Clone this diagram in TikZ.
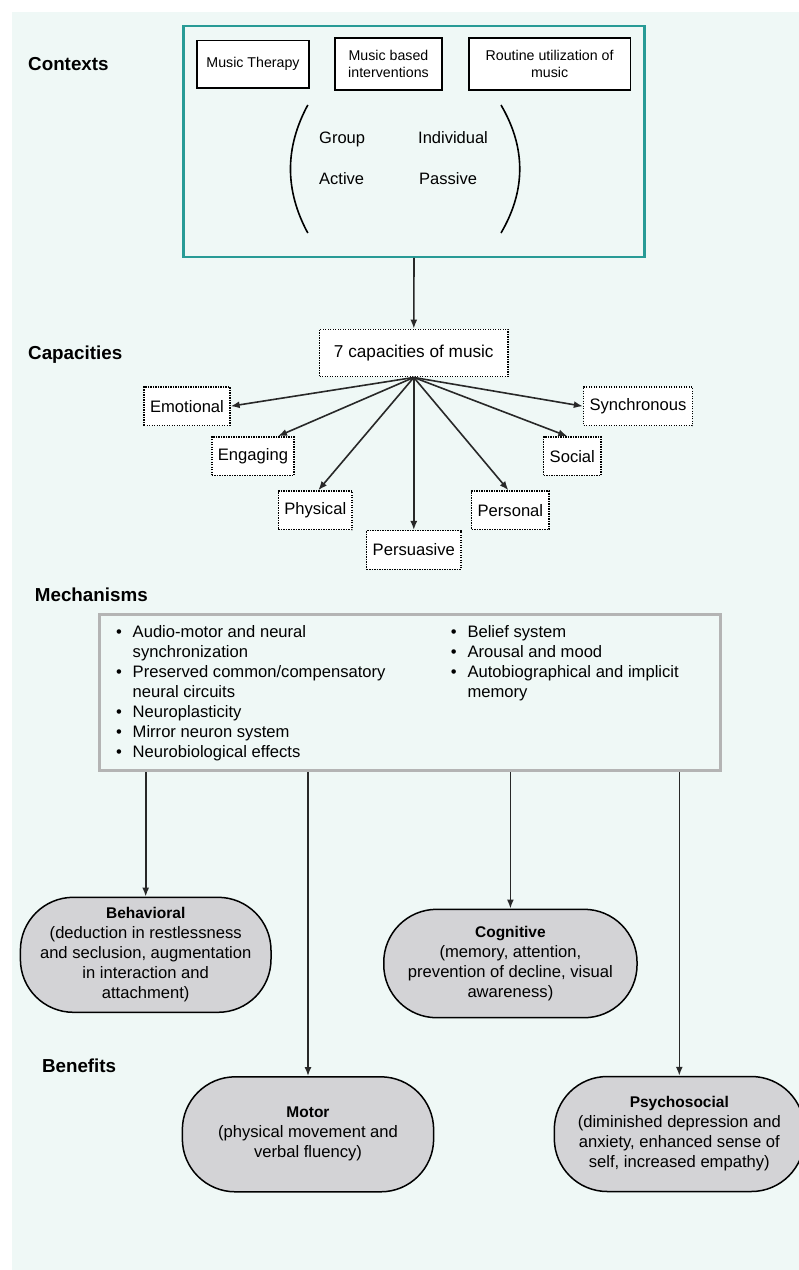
\documentclass[tikz,border=0pt]{standalone}
\usepackage{fontspec}
\setmainfont{Liberation Sans}
\usetikzlibrary{arrows.meta,calc}
\definecolor{bgmint}{RGB}{239,248,246}
\definecolor{tealline}{RGB}{40,155,150}
\definecolor{mechgray}{RGB}{180,180,180}
\definecolor{benfill}{RGB}{211,211,214}
\definecolor{arr}{RGB}{40,40,40}
\begin{document}
\begin{tikzpicture}[x=1pt,y=-1pt,
  sectlabel/.style={anchor=base west, inner sep=0pt, font=\fontsize{18.8}{22}\selectfont\bfseries},
  ctxbox/.style={draw=black, line width=1.8pt, fill=white, align=center, font=\fontsize{14.2}{16.7}\selectfont, inner sep=0pt},
  ctxword/.style={anchor=base west, inner sep=0pt, font=\fontsize{16.5}{20}\selectfont},
  capbox/.style={draw=black, line width=1.5pt, dash pattern=on 1.4pt off 1.1pt, fill=white, font=\fontsize{16.6}{20}\selectfont, inner xsep=6pt, inner ysep=0pt, minimum height=38.6pt},
  benbox/.style={draw=black, line width=1.5pt, fill=benfill, rounded corners=53pt, align=center, font=\fontsize{16.6}{20}\selectfont, inner sep=0pt},
  mechtext/.style={anchor=base west, inner sep=0pt, font=\fontsize{16.6}{20}\selectfont},
  flow/.style={draw=arr, line width=1.6pt, -{Latex[length=9pt,width=7pt]}},
  paren/.style={draw=black, line width=1.6pt}
]
\useasboundingbox (0,0) rectangle (799,1270);
\fill[bgmint] (12,12) rectangle (799,1270);

% ---------- Contexts ----------
\node[sectlabel] (lctx) at (28,70.7) {Contexts};
\node[draw=tealline, line width=2.2pt, minimum width=461pt, minimum height=230.7pt, inner sep=0pt] (ctx) at (414,141.3) {};
\node[ctxbox, minimum width=111.6pt, minimum height=47.6pt] (mt) at (253,64.2) {Music Therapy};
\node[ctxbox, minimum width=107.5pt, minimum height=51.7pt] (mbi) at (388.5,64.2) {Music based\\interventions};
\node[ctxbox, minimum width=161.6pt, minimum height=51.7pt] (rum) at (549.6,64.2) {Routine utilization of\\music};
\node[ctxword] (grp) at (319,143.9) {Group};
\node[ctxword] (ind) at (418,143.9) {Individual};
\node[ctxword] (act) at (319,184.9) {Active};
\node[ctxword] (pas) at (419,184.9) {Passive};
\coordinate (lpt) at (307.8,105);
\coordinate (lpb) at (307.8,233);
\coordinate (rpt) at (501,105);
\coordinate (rpb) at (501,233);
\draw[paren] (lpt) .. controls (284.7,147.7) and (284.7,190.3) .. (lpb);
\draw[paren] (rpt) .. controls (526,147.7) and (526,190.3) .. (rpb);

% ---------- Capacities ----------
\node[sectlabel] (lcap) at (28,359.7) {Capacities};
\node[capbox, font=\fontsize{17.2}{20}\selectfont, minimum width=188.5pt, minimum height=47.4pt] (cap) at (413.8,353) {7 capacities of music};
\node[capbox] (emo) at (187,406.2) {Emotional};
\node[capbox] (eng) at (253,456.2) {Engaging};
\node[capbox] (phy) at (315.3,510.3) {Physical};
\node[capbox] (per) at (413.8,550) {Persuasive};
\node[capbox] (pers) at (510.4,510.3) {Personal};
\node[capbox] (soc) at (572.3,456.2) {Social};
\node[capbox] (syn) at (638,406.2) {Synchronous};

\draw[flow] (ctx.south) -- (cap.north);
\draw[flow] (cap.south) -- (emo.east);
\draw[flow] (cap.south) -- ([xshift=25pt]eng.north);
\draw[flow] (cap.south) -- ([xshift=3pt]phy.north);
\draw[flow] (cap.south) -- (per.north);
\draw[flow] (cap.south) -- ([xshift=-2pt]pers.north);
\draw[flow] (cap.south) -- ([xshift=-5pt]soc.north);
\draw[flow] (cap.south) -- (syn.west);

% ---------- Mechanisms ----------
\node[sectlabel] (lmech) at (34.7,601.7) {Mechanisms};
\node[draw=mechgray, line width=3pt, minimum width=620.6pt, minimum height=156.4pt, inner sep=0pt] (mech) at (409.7,692.5) {};
\node[mechtext] (mechL) at (115.8,637.7) {\begin{tabular}[t]{@{}l@{\hspace{10.9pt}}l@{}}
\textbullet & Audio-motor and neural\\
 & synchronization\\
\textbullet & Preserved common/compensatory\\
 & neural circuits\\
\textbullet & Neuroplasticity\\
\textbullet & Mirror neuron system\\
\textbullet & Neurobiological effects
\end{tabular}};
\node[mechtext] (mechR) at (450.6,637.7) {\begin{tabular}[t]{@{}l@{\hspace{10.9pt}}l@{}}
\textbullet & Belief system\\
\textbullet & Arousal and mood\\
\textbullet & Autobiographical and implicit\\
 & memory
\end{tabular}};

% ---------- Benefits ----------
\node[sectlabel] (lben) at (41.8,1072.7) {Benefits};
\node[benbox, minimum width=250.6pt, minimum height=115pt] (beh) at (145.7,954.8)
  {{\bfseries\fontsize{15.5}{20}\selectfont Behavioral}\\(deduction in restlessness\\and seclusion, augmentation\\in interaction and\\attachment)};
\node[benbox, minimum width=253.3pt, minimum height=108.4pt] (cog) at (510.4,963.5)
  {{\bfseries\fontsize{15.5}{20}\selectfont Cognitive}\\(memory, attention,\\prevention of decline, visual\\awareness)};
\node[benbox, minimum width=251.3pt, minimum height=115pt] (mot) at (308,1134.3)
  {{\bfseries\fontsize{15.5}{20}\selectfont Motor}\\(physical movement and\\verbal fluency)};
\node[benbox, minimum width=250pt, minimum height=115pt] (psy) at (679.3,1134)
  {{\bfseries\fontsize{15.5}{20}\selectfont Psychosocial}\\(diminished depression and\\anxiety, enhanced sense of\\self, increased empathy)};

\draw[flow] (beh.north |- mech.south) -- (beh.north);
\draw[flow] (mot.north |- mech.south) -- (mot.north);
\draw[flow] (cog.north |- mech.south) -- (cog.north);
\draw[flow] (psy.north |- mech.south) -- (psy.north);
\end{tikzpicture}
\end{document}
